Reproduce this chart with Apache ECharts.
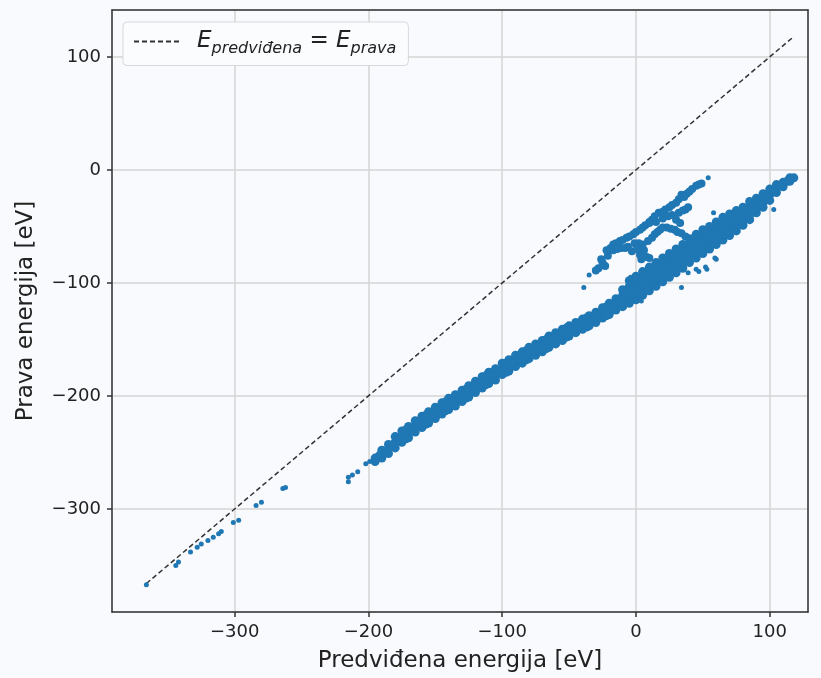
<!DOCTYPE html>
<html>
<head>
<meta charset="utf-8">
<script src="https://cdn.jsdelivr.net/npm/echarts@6/dist/echarts.min.js"></script>
<style>
  html, body { margin: 0; padding: 0; background: #f9fafd; }
  #chart { width: 821px; height: 678px; }
</style>
</head>
<body>
<div id="chart"></div>
<script>
// Predviđena (x) vs prava (y) energija, eV
var xMin = -391.7, xMax = 128.6;
var yMin = -391.2, yMax = 141.5;

// E_predvidena = E_prava
var idealLine = [[-366, -366], [117, 117]];

// main dense band: [x, y1, y2, ...]
var bandColumns = [
  [-195, -258, -255],
  [-190, -255, -251, -248],
  [-185, -251, -247, -243],
  [-180, -246, -241, -236],
  [-175, -241, -236, -231],
  [-170, -237, -232, -227],
  [-165, -232, -227, -222],
  [-160, -228, -223, -218],
  [-155, -224, -219, -214],
  [-150, -220, -215, -210],
  [-145, -216, -211, -206],
  [-140, -212, -207, -202],
  [-135, -209, -204, -199],
  [-130, -205, -200, -195],
  [-125, -201, -196, -191],
  [-120, -197, -192, -187],
  [-115, -193, -188, -183],
  [-110, -189, -184, -179],
  [-105, -186, -181, -176],
  [-100, -181, -176, -171],
  [-95, -178, -173, -168],
  [-90, -174, -169, -164],
  [-85, -171, -166, -161],
  [-80, -167, -162, -157],
  [-75, -164, -159, -154],
  [-70, -161, -156, -151],
  [-65, -157, -152, -147],
  [-60, -154, -149, -144],
  [-55, -151, -146, -141],
  [-50, -147, -142, -138],
  [-45, -144, -139, -135],
  [-40, -141, -136, -132],
  [-35, -138, -133, -129],
  [-30, -135, -130, -126],
  [-25, -131, -127, -122],
  [-20, -128, -123, -118],
  [-15, -124, -119, -114],
  [-10, -121, -116, -111, -106],
  [-5, -118, -113, -108, -103, -98],
  [0, -115, -110, -104, -99, -94],
  [5, -111, -106, -100, -95, -90],
  [10, -107, -102, -96, -91, -86],
  [15, -103, -98, -92, -87, -82],
  [20, -99, -94, -88, -83, -78],
  [25, -95, -90, -84, -79, -74],
  [30, -91, -86, -80, -75, -70],
  [35, -87, -82, -76, -71, -66],
  [40, -82, -77, -71, -66, -61],
  [45, -78, -73, -67, -62, -57],
  [50, -74, -69, -63, -58, -53],
  [55, -70, -65, -60, -55, -50],
  [60, -66, -61, -56, -51, -46],
  [65, -62, -57, -52, -47, -42],
  [70, -58, -53, -48, -43, -39],
  [75, -54, -49, -45, -40, -36],
  [80, -49, -45, -41, -37, -33],
  [85, -44, -40, -36, -32, -28],
  [90, -38, -34, -29, -25],
  [95, -33, -29, -25, -21],
  [100, -27, -22, -17],
  [105, -20, -16, -13],
  [110, -15, -11],
  [115, -10, -7],
  [118, -7]
];

// in-between points that fill the band
var bandFill = [
  [-192, -253], [-187, -249], [-182, -244], [-177, -239], [-172, -234], [-167, -230],
  [-162, -225], [-157, -221], [-152, -217], [-147, -213], [-142, -209], [-137, -205],
  [-132, -202], [-127, -198], [-122, -194], [-117, -190], [-112, -186], [-107, -182],
  [-102, -178], [-97, -175], [-92, -171], [-87, -167], [-82, -164], [-77, -160],
  [-72, -157], [-67, -154], [-62, -150], [-57, -147], [-52, -144], [-47, -141],
  [-42, -138], [-37, -135], [-32, -132], [-27, -128], [-22, -125], [-17, -121],
  [-12, -116], [-7, -111], [-2, -106], [3, -102], [8, -98], [13, -94], [18, -90],
  [23, -86], [28, -82], [33, -78], [38, -74], [43, -69], [48, -65], [53, -61],
  [58, -58], [63, -54], [68, -50], [73, -46], [78, -43], [83, -38], [88, -34],
  [93, -29], [98, -24], [103, -19], [108, -14], [113, -10],
  [-172, -238], [-157, -225], [-142, -213], [-127, -202], [-112, -190], [-97, -179],
  [-82, -168], [-67, -158], [-52, -148], [-37, -139], [-22, -129], [-172, -230],
  [-157, -217], [-142, -205], [-127, -194], [-112, -182], [-97, -171], [-82, -160],
  [-67, -150], [-52, -140], [-37, -131], [-22, -121]
];

// upper branch above the band
var upperBranch = [
  [-28, -87], [-23, -85], [-26, -79], [-21, -76], [-22, -71], [-17, -66], [-12, -63],
  [-7, -60], [-2, -57], [3, -53], [7, -49], [12, -44], [17, -38], [22, -35], [27, -31],
  [32, -26], [34, -22], [38, -21], [42, -17], [45, -14], [49, -12], [-30, -89],
  [-25, -82], [-19, -69], [-15, -65], [-10, -62], [-5, -59], [0, -55], [5, -51],
  [10, -46], [14, -41], [20, -37], [25, -33], [30, -29], [36, -24], [40, -19], [47, -13],
  [-17, -71], [-11, -69], [-6, -68], [-1, -65], [5, -66], [9, -63], [14, -57], [18, -53],
  [23, -51], [29, -53], [34, -56], [37, -59], [-14, -70], [-8, -69], [2, -65], [12, -60],
  [16, -55], [20, -51], [26, -52], [31, -55],
  [10, -47], [15, -46], [20, -43], [27, -40], [32, -38], [37, -35], [30, -44], [33, -47],
  [24, -41], [35, -36], [39, -33],
  [3, -75], [8, -77], [10, -78], [4, -79], [-3, -72], [6, -71], [1, -70]
];

// isolated points
var outliers = [
  [-35, -93], [-39, -104], [54, -7], [58, -38], [103, -35], [93, -32], [15, -104],
  [34, -104], [4, -116], [-4, -95], [60, -79], [53, -88], [47, -90], [39, -91],
  [59, -78], [52, -86], [45, -88]
];

// sparse low-energy tail
var lowTail = [
  [-366, -367], [-344, -350], [-342, -347], [-333, -338], [-328, -334], [-325, -331],
  [-320, -328], [-316, -325], [-312, -322], [-310, -320], [-301, -312], [-297, -310],
  [-284, -297], [-280, -294], [-264, -282], [-262, -281], [-215, -276], [-215, -272],
  [-212, -270], [-208, -267], [-202, -260], [-199, -258]
];

var bandPoints = [];
bandColumns.forEach(function (col) {
  col.slice(1).forEach(function (y) {
    bandPoints.push([col[0], y]);
  });
});

var blue = "#1f77b4";
var ink = "#222";
var minus = function (v) {
  return String(v).replace("-", "\u2212");
};
var frameAxis = {
  type: "value",
  axisLine: { show: true, onZero: false, lineStyle: { color: "#333", width: 1.5 } },
  axisTick: { show: false },
  axisLabel: { show: false },
  splitLine: { show: false }
};

var myChart = echarts.init(document.getElementById("chart"));
var options = {
  backgroundColor: "#f9fafd",
  animation: false,
  textStyle: { fontFamily: "DejaVu Sans" },
  grid: { left: 112, right: 13, top: 10, bottom: 65 },
  legend: {
    left: 123,
    top: 22,
    padding: [8, 12, 9, 10],
    backgroundColor: "#fbfcfe",
    borderColor: "#d8d8d8",
    borderWidth: 1,
    borderRadius: 4,
    itemWidth: 46,
    itemHeight: 14,
    itemStyle: { opacity: 0 },
    data: ["ideal"],
    formatter: function () {
      return "{e|E}{s|predviđena}{m| = }{e|E}{s|prava}";
    },
    textStyle: {
      color: ink,
      padding: [0, 0, 0, 12],
      rich: {
        e: { fontSize: 23, fontStyle: "italic", fontFamily: "DejaVu Sans", color: ink, lineHeight: 30, verticalAlign: "middle" },
        s: { fontSize: 16, fontStyle: "italic", fontFamily: "DejaVu Sans", color: ink, lineHeight: 16, verticalAlign: "bottom" },
        m: { fontSize: 23, fontFamily: "DejaVu Sans", color: ink, lineHeight: 30, verticalAlign: "middle" }
      }
    }
  },
  xAxis: [
    {
      type: "value",
      min: xMin,
      max: xMax,
      splitNumber: 5,
      name: "Predviđena energija [eV]",
      nameLocation: "middle",
      nameGap: 38,
      nameTextStyle: { fontSize: 23, color: ink, fontFamily: "DejaVu Sans" },
      axisLine: { show: true, onZero: false, lineStyle: { color: "#333", width: 1.5 } },
      axisTick: { show: true, length: 5, lineStyle: { color: "#333", width: 1.5 } },
      axisLabel: {
        showMinLabel: false,
        showMaxLabel: false,
        fontSize: 18,
        color: ink,
        margin: 11,
        formatter: minus
      },
      splitLine: { show: true, lineStyle: { color: "#d4d4d4", width: 1.5 } }
    },
    Object.assign({ position: "top", min: xMin, max: xMax }, frameAxis)
  ],
  yAxis: [
    {
      type: "value",
      min: yMin,
      max: yMax,
      splitNumber: 5,
      name: "Prava energija [eV]",
      nameLocation: "middle",
      nameGap: 74,
      nameTextStyle: { fontSize: 23, color: ink, fontFamily: "DejaVu Sans" },
      axisLine: { show: true, onZero: false, lineStyle: { color: "#333", width: 1.5 } },
      axisTick: { show: true, length: 5, lineStyle: { color: "#333", width: 1.5 } },
      axisLabel: {
        showMinLabel: false,
        showMaxLabel: false,
        fontSize: 18,
        color: ink,
        margin: 11,
        formatter: minus
      },
      splitLine: { show: true, lineStyle: { color: "#d4d4d4", width: 1.5 } }
    },
    Object.assign({ position: "right", min: yMin, max: yMax }, frameAxis)
  ],
  series: [
    {
      name: "ideal",
      type: "line",
      data: idealLine,
      showSymbol: false,
      symbol: "none",
      z: 3,
      lineStyle: { color: "#333", width: 1.5, type: [5, 3] },
      itemStyle: { color: "#333" }
    },
    {
      name: "band",
      type: "scatter",
      data: bandPoints.concat(bandFill),
      symbolSize: 9,
      itemStyle: { color: blue, opacity: 1 },
      z: 4
    },
    {
      name: "branch",
      type: "scatter",
      data: upperBranch,
      symbolSize: 8,
      itemStyle: { color: blue, opacity: 1 },
      z: 4
    },
    {
      name: "outliers",
      type: "scatter",
      data: outliers.concat(lowTail),
      symbolSize: 5,
      itemStyle: { color: blue, opacity: 1 },
      z: 4
    }
  ]
};
myChart.setOption(options);
</script>
</body>
</html>
